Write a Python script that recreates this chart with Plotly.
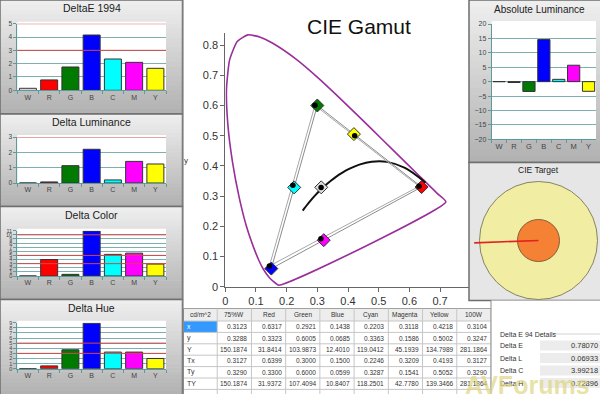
import plotly.graph_objects as go

# ------------------------------------------------------------------ data
categories = ["W", "R", "G", "B", "C", "M", "Y"]
bar_colors = ["#ffffff", "#ff0000", "#007a00", "#0000ff", "#00ffff", "#ff00ff", "#ffff00"]
delta_e_1994 = [0.15, 0.78, 1.75, 4.15, 2.35, 2.10, 1.65]
delta_luminance = [0.0, 0.07, 1.13, 2.20, 0.20, 1.41, 1.24]
delta_color = [0.0, 4.0, 0.4, 10.9, 5.25, 5.55, 2.9]
delta_hue = [0.0, 0.55, 3.7, 8.9, 3.25, 3.25, 2.0]
absolute_luminance = [0.0, -0.3, -3.4, 14.6, 0.8, 5.7, -3.35]

table_header = ["cd/m^2", "75%W", "Red", "Green", "Blue", "Cyan", "Magenta", "Yellow", "100W"]
table_row_labels = ["x", "y", "Y", "Tx", "Ty", "TY"]
meas_x = [0.3123, 0.6317, 0.2921, 0.1438, 0.2203, 0.3118, 0.4218, 0.3104]
meas_y = [0.3288, 0.3323, 0.6005, 0.0685, 0.3363, 0.1586, 0.5002, 0.3247]
meas_Y = [150.1874, 31.8414, 103.9873, 12.4010, 119.0412, 45.1939, 134.7989, 281.1864]
target_x = [0.3127, 0.6399, 0.3000, 0.1500, 0.2246, 0.3209, 0.4193, 0.3127]
target_y = [0.3290, 0.3300, 0.6000, 0.0599, 0.3287, 0.1541, 0.5052, 0.3290]
target_Y = [150.1874, 31.9372, 107.4094, 10.8407, 118.2501, 42.7780, 139.3466, 281.1864]
gamut_marker_colors = ["#dddddd", "#ff0000", "#007a00", "#0000ff", "#00ffff", "#ff00ff", "#ffff00"]

# CIE 1931 spectral locus (380 nm, 450..640 nm)
locus_x = [0.1741, 0.1566, 0.1440, 0.1241, 0.1096, 0.0913, 0.0687, 0.0454, 0.0235, 0.0082,
           0.0039, 0.0139, 0.0389, 0.0743, 0.1142, 0.1547, 0.2296, 0.3016, 0.3731, 0.4441,
           0.5125, 0.5752, 0.6270, 0.6658, 0.6915, 0.7190]
locus_y = [0.0050, 0.0177, 0.0297, 0.0578, 0.0868, 0.1327, 0.2007, 0.2950, 0.4127, 0.5384,
           0.6548, 0.7502, 0.8120, 0.8338, 0.8262, 0.8059, 0.7543, 0.6923, 0.6245, 0.5547,
           0.4866, 0.4242, 0.3725, 0.3340, 0.3083, 0.2809]
# Planckian locus 1000 K .. 25000 K
planck_x = [0.6528, 0.5857, 0.5267, 0.4770, 0.4369, 0.4053, 0.3805, 0.3608, 0.3451,
            0.3221, 0.3064, 0.2952, 0.2807, 0.2637, 0.2565, 0.2524]
planck_y = [0.3444, 0.3931, 0.4133, 0.4137, 0.4041, 0.3907, 0.3768, 0.3636, 0.3516,
            0.3318, 0.3166, 0.3048, 0.2883, 0.2672, 0.2577, 0.2522]

de94_labels = ["Delta E", "Delta L", "Delta C", "Delta H"]
de94_values = [0.78070, 0.06933, 3.99218, 0.72896]

target_rings = [3.0, 1.07]        # outer / inner ring radius
target_error = [-3.27, -0.12]     # error vector dx, dy

# ------------------------------------------------------------------ helpers
W, H = 600, 394
FONT = "Liberation Sans, Arial, sans-serif"
NARROW = "Liberation Sans Narrow, Liberation Sans, Arial, sans-serif"
TEAL = "#7eb0b0"
TEAL_AX = "#5e9a9a"
REDLINE = "#d24848"


def fx(px):
    return px / W


def fy(py):
    return 1 - py / H


shapes = []
annotations = []


def rect(x0, y0, x1, y1, fill, line=None, lw=0, layer="below"):
    shapes.append(dict(type="rect", xref="paper", yref="paper",
                       x0=fx(x0), x1=fx(x1), y0=fy(y1), y1=fy(y0),
                       fillcolor=fill, layer=layer,
                       line=dict(color=line or "rgba(0,0,0,0)", width=lw)))


def hline(x0, x1, y, color, lw=1, layer="below"):
    shapes.append(dict(type="line", xref="paper", yref="paper", x0=fx(x0), x1=fx(x1),
                       y0=fy(y), y1=fy(y), line=dict(color=color, width=lw), layer=layer))


def vline(x, y0, y1, color, lw=1, layer="below"):
    shapes.append(dict(type="line", xref="paper", yref="paper", x0=fx(x), x1=fx(x),
                       y0=fy(y0), y1=fy(y1), line=dict(color=color, width=lw), layer=layer))


def text(x, y, s, size=7, color="#333", xanchor="center", family=FONT, **kw):
    annotations.append(dict(xref="paper", yref="paper", x=fx(x), y=fy(y), text=s,
                            showarrow=False, xanchor=xanchor, yanchor="middle",
                            font=dict(size=size, color=color, family=family), **kw))


def gradient_panel(x0, y0, x1, y1, top=(238, 238, 238), bot=(178, 178, 178), n=24):
    h = (y1 - y0) / n
    for i in range(n):
        t = i / (n - 1)
        c = tuple(round(a + (b - a) * t) for a, b in zip(top, bot))
        rect(x0, y0 + i * h, x1, min(y1, y0 + (i + 1) * h + 0.7), "rgb(%d,%d,%d)" % c)


fig = go.Figure()
layout_axes = {}

# ------------------------------------------------------------------ left bar panels
left_panels = [
    dict(title="DeltaE 1994", vals=delta_e_1994, ymax=5, red=[3, 5], top=0, bot=114, pt=23.7, pb=90.3, ty=8.5),
    dict(title="Delta Luminance", vals=delta_luminance, ymax=3, red=[3], top=114, bot=206.5, pt=137, pb=183, ty=122),
    dict(title="Delta Color", vals=delta_color, ymax=11, red=[3, 5, 10], top=206.5, bot=299.5, pt=230.7, pb=276, ty=215),
    dict(title="Delta Hue", vals=delta_hue, ymax=9, red=[3, 5], top=299.5, bot=395, pt=322.7, pb=368.7, ty=308),
]
PX0, PX1 = 17.3, 166

for i, p in enumerate(left_panels):
    n = i + 1
    gradient_panel(0, p["top"], 182.5, p["bot"])
    rect(PX0, p["pt"] - 2, PX1, p["pb"], "#ffffff")
    rect(0, p["top"], 182.5, p["bot"], "rgba(0,0,0,0)", "#6e6e6e", 1.5)
    text(91.7, p["ty"], p["title"], size=10.5, color="#222")
    xa = "x" if n == 1 else "x%d" % n
    ya = "y" if n == 1 else "y%d" % n
    fig.add_trace(go.Bar(x=categories, y=p["vals"], xaxis=xa, yaxis=ya, width=0.8,
                         marker=dict(color=bar_colors, line=dict(color="#333", width=1))))
    layout_axes["xaxis" if n == 1 else "xaxis%d" % n] = dict(
        domain=[fx(PX0), fx(PX1)], anchor=ya, type="category", showgrid=False,
        showline=True, linecolor=TEAL_AX, ticks="outside", tickson="boundaries", ticklen=3,
        tickcolor=TEAL_AX, tickangle=0, tickfont=dict(size=7, color="#444", family=FONT),
        fixedrange=True)
    small = p["ymax"] > 5
    layout_axes["yaxis" if n == 1 else "yaxis%d" % n] = dict(
        domain=[fy(p["pb"]), fy(p["pt"])], anchor=xa, range=[0, p["ymax"]], dtick=1,
        showgrid=True, gridcolor=TEAL, gridwidth=1, zeroline=False, showline=True,
        linecolor=TEAL_AX, ticks="outside", ticklen=3, tickcolor=TEAL_AX,
        tickfont=dict(size=5.5 if small else 6.5, color="#444", family=FONT), fixedrange=True)
    for v in p["red"]:
        shapes.append(dict(type="line", xref=xa + " domain", yref=ya, x0=0, x1=1, y0=v, y1=v,
                           line=dict(color=REDLINE, width=1), layer="above"))

# ------------------------------------------------------------------ absolute luminance
gradient_panel(469, 0, 600, 162.5)
rect(491.7, 21, 596, 139.3, "#ffffff")
rect(469, 0, 601, 162.5, "rgba(0,0,0,0)", "#6e6e6e", 1.5)
text(539, 9, "Absolute Luminance", size=10, color="#222")
fig.add_trace(go.Bar(x=categories, y=absolute_luminance, xaxis="x5", yaxis="y5", width=0.82,
                     marker=dict(color=bar_colors, line=dict(color="#333", width=1))))
layout_axes["xaxis5"] = dict(domain=[fx(491.7), fx(596)], anchor="y5", type="category",
                             showgrid=False, showline=True, linecolor=TEAL_AX, ticks="outside",
                             tickson="boundaries", ticklen=3, tickcolor=TEAL_AX, tickangle=0,
                             tickfont=dict(size=7.5, color="#444", family=FONT), fixedrange=True)
layout_axes["yaxis5"] = dict(domain=[fy(139.3), fy(24)], anchor="x5", range=[-20, 20], dtick=5,
                             showgrid=True, gridcolor=TEAL, zeroline=False, showline=True,
                             linecolor=TEAL_AX, ticks="outside", ticklen=3, tickcolor=TEAL_AX,
                             tickfont=dict(size=7, color="#444", family=FONT), fixedrange=True)

# ------------------------------------------------------------------ CIE target
rect(469, 162.5, 601, 300.5, "#e6e6e6", "#6e6e6e", 1.5)
text(538, 170, "CIE Target", size=8.5, color="#222")
unit = 59 / 3.0
cx, cy = 538.5, 240.5
layout_axes["xaxis7"] = dict(domain=[fx(469), 1], anchor="y7", visible=False,
                             range=[(469 - cx) / unit, (600 - cx) / unit], fixedrange=True)
layout_axes["yaxis7"] = dict(domain=[fy(300.5), fy(162.5)], anchor="x7", visible=False,
                             range=[-(300.5 - cy) / unit, (cy - 162.5) / unit], fixedrange=True)
ring_fill = ["#f1eda2", "#f58234"]
ring_line = ["#6a6a50", "#6a4a30"]
for r, fc, lc in zip(target_rings, ring_fill, ring_line):
    shapes.append(dict(type="circle", xref="x7", yref="y7", x0=-r, x1=r, y0=-r, y1=r,
                       fillcolor=fc, line=dict(color=lc, width=0.8), layer="between"))
fig.add_trace(go.Scatter(x=[0, target_error[0]], y=[0, target_error[1]], xaxis="x7", yaxis="y7",
                         mode="lines", line=dict(color="#e42020", width=1.6)))

# ------------------------------------------------------------------ CIE gamut
vline(183, 0, 394, "#8a8a8a", 1)
text(358.5, 26.5, "CIE Gamut", size=21, color="#111")
text(185.5, 160, "y", size=8, color="#333")
fig.add_trace(go.Scatter(x=locus_x + [locus_x[0]], y=locus_y + [locus_y[0]], xaxis="x6", yaxis="y6",
                         mode="lines", line=dict(color="#9a2e9a", width=1.6, shape="spline", smoothing=0.5)))
fig.add_trace(go.Scatter(x=planck_x, y=planck_y, xaxis="x6", yaxis="y6", mode="lines",
                         line=dict(color="#111", width=2, shape="spline")))
tri = [1, 2, 3, 1]
fig.add_trace(go.Scatter(x=[target_x[k] for k in tri], y=[target_y[k] for k in tri], xaxis="x6", yaxis="y6",
                         mode="lines", line=dict(color="#8c8c8c", width=1)))
fig.add_trace(go.Scatter(x=[meas_x[k] for k in tri], y=[meas_y[k] for k in tri], xaxis="x6", yaxis="y6",
                         mode="lines", line=dict(color="#a8a8a8", width=1)))
fig.add_trace(go.Scatter(x=target_x[:7], y=target_y[:7], xaxis="x6", yaxis="y6", mode="markers",
                         marker=dict(symbol="diamond", size=10, color=gamut_marker_colors,
                                     line=dict(color="#333", width=1))))
fig.add_trace(go.Scatter(x=meas_x[:7], y=meas_y[:7], xaxis="x6", yaxis="y6", mode="markers",
                         marker=dict(symbol="circle", size=5.5, color="#000")))
layout_axes["xaxis6"] = dict(domain=[fx(225.3), fx(468.7)], anchor="y6", range=[0, 0.7935], dtick=0.1,
                             tick0=0, showgrid=False, zeroline=False, showline=True, linecolor="#666",
                             ticks="outside", ticklen=4, tickcolor="#666",
                             tickfont=dict(size=11, color="#333", family=FONT), fixedrange=True)
layout_axes["yaxis6"] = dict(domain=[fy(286.7), fy(33)], anchor="x6", range=[0, 0.84], dtick=0.1,
                             tick0=0, showgrid=False, zeroline=False, showline=True, linecolor="#666",
                             ticks="outside", ticklen=4, tickcolor="#666",
                             tickfont=dict(size=11, color="#333", family=FONT), fixedrange=True)

# ------------------------------------------------------------------ data table
TX0, TX1 = 183, 491
col_w = (TX1 - TX0) / len(table_header)
HEAD_T, HEAD_B = 308.5, 321
row_h = 11.4
table_cols = [meas_x, meas_y, meas_Y, target_x, target_y, target_Y]
rect(TX0, HEAD_T, TX1, 394, "#ffffff")
rect(TX0, HEAD_T, TX1, HEAD_B, "#ededed")
rect(TX0, HEAD_B, TX0 + col_w, HEAD_B + row_h, "#3399ff")
for r in range(len(table_row_labels) + 1):
    hline(TX0, TX1, HEAD_B + r * row_h, "#c6c6c6", 1)
hline(TX0, TX1, HEAD_T, "#a0a0a0", 1)
for c in range(1, len(table_header) + 1):
    vline(TX0 + c * col_w, HEAD_T, 394, "#c6c6c6", 1)
vline(TX0 + 0.5, HEAD_T, 394, "#8a8a8a", 1)
for c, name in enumerate(table_header):
    text(TX0 + (c + 0.5) * col_w, (HEAD_T + HEAD_B) / 2, name, size=6.5, color="#333", family=NARROW)
for r, lab in enumerate(table_row_labels):
    yc = HEAD_B + (r + 0.5) * row_h
    text(TX0 + 2, yc, lab, size=7, color="#ffffff" if r == 0 else "#333", xanchor="left", family=NARROW)
    for c in range(len(table_header) - 1):
        text(TX0 + (c + 2) * col_w - 2, yc, "%.4f" % table_cols[r][c], size=6.5, color="#333",
             xanchor="right", family=NARROW)

# ------------------------------------------------------------------ Delta E 94 details
rect(491, 300.5, 601, 394, "#ffffff")
vline(491, 300.5, 394, "#8a8a8a", 1)
text(498, 334, "Delta E 94 Details", size=7, color="#333", xanchor="left", family=NARROW)
hline(553, 600, 334, "#d4d4d4", 1)
for k, (lab, val) in enumerate(zip(de94_labels, de94_values)):
    yc = 345.5 + k * 12.5
    rect(540, yc - 5, 600, yc + 5, "#ececec")
    text(498, yc, lab, size=7, color="#333", xanchor="left", family=NARROW)
    text(600, yc, "%.5f" % val, size=7.5, color="#333", xanchor="right", family=NARROW)

# watermark
text(527, 385, "<b>AVForums</b>", size=25, color="rgba(222,214,130,0.7)")

fig.update_layout(
    width=W, height=H, margin=dict(l=0, r=0, t=0, b=0, pad=0, autoexpand=False),
    paper_bgcolor="#ffffff", plot_bgcolor="rgba(0,0,0,0)", showlegend=False,
    hovermode=False, bargap=0.2, shapes=shapes, annotations=annotations,
    font=dict(family=FONT), **layout_axes)

fig.write_html("out.html", config={"displayModeBar": False},
               post_script="document.body.style.margin='0';document.body.style.padding='0';"
                           "document.body.style.overflow='hidden';")
